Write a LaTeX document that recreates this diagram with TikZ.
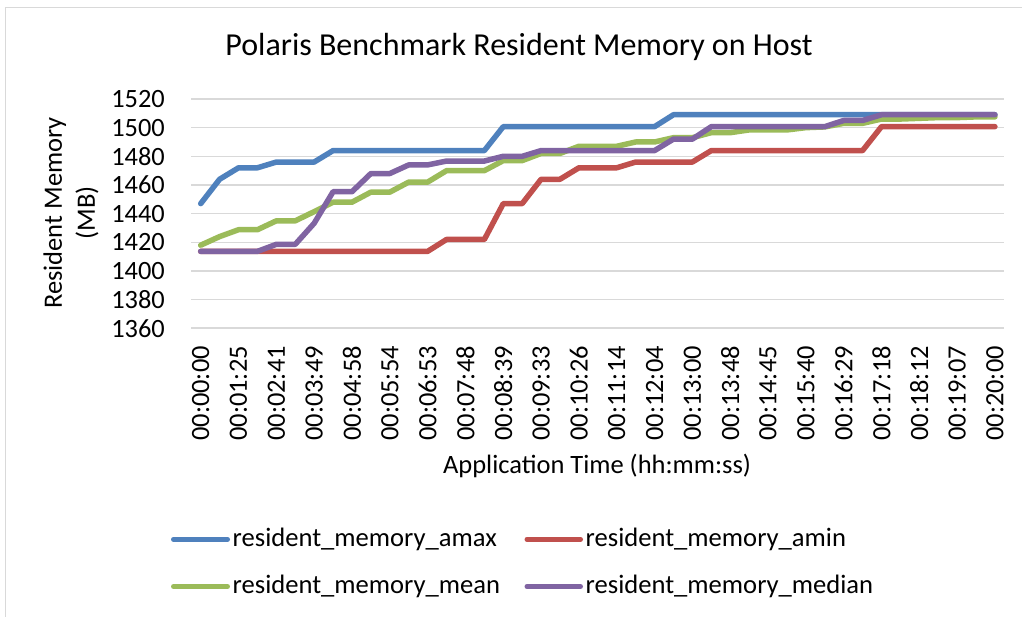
\documentclass[tikz,border=0pt]{standalone}
\usepackage{fontspec}
\setmainfont{Carlito}
\usetikzlibrary{positioning}
\definecolor{memMax}{HTML}{4F81BD}
\definecolor{memMin}{HTML}{C0504D}
\definecolor{memMean}{HTML}{9BBB59}
\definecolor{memMedian}{HTML}{8064A2}
\definecolor{gridGray}{HTML}{D9D9D9}

\begin{document}
\begin{tikzpicture}[
    x=1pt, y=-1pt,
    gridline/.style={draw=gridGray, line width=1.6pt},
    ticklabel/.style={inner sep=0pt, font=\fontsize{26.4}{31}\selectfont},
    axislabel/.style={inner sep=0pt, align=center, font=\fontsize{26.5}{33}\selectfont},
    series/.style={line width=5.5pt, line cap=round, line join=round},
    legendline/.style={line width=5pt, line cap=round},
    legendtext/.style={anchor=west, inner sep=0pt, font=\fontsize{26.6}{31}\selectfont}
  ]
  \useasboundingbox (0,0) rectangle (1022,616);
  \clip (0,0) rectangle (1022,616);
  \draw[gridGray, line width=1.5pt] (5.5,7.5) rectangle (1040,640);

  % Title
  \node[font=\fontsize{32}{38}\selectfont, inner sep=0pt] (title) at (519,47) {Polaris Benchmark Resident Memory on Host};

  % Value axis: gridlines and labels
  \foreach \v [count=\k from 0] in {1520,1500,...,1360} {
    \draw[gridline] (191,{99+\k*28.66}) -- (1004,{99+\k*28.66});
    \node[ticklabel, anchor=east] (ylab\k) at (165,{99+\k*28.66}) {\v};
  }

  % Category axis labels (every second sample)
  \foreach \t [count=\k from 0] in {00:00:00,00:01:25,00:02:41,00:03:49,00:04:58,00:05:54,00:06:53,00:07:48,00:08:39,00:09:33,00:10:26,00:11:14,00:12:04,00:13:00,00:13:48,00:14:45,00:15:40,00:16:29,00:17:18,00:18:12,00:19:07,00:20:00} {
    \node[ticklabel, rotate=90, anchor=east] (xlab\k) at ({200.7+\k*37.82},346) {\t};
  }

  % Axis titles
  \node[axislabel] (xtitle) at (597,466) {Application Time (hh:mm:ss)};
  \node[axislabel, rotate=90] (ytitle) at (71,213) {Resident Memory\\(MB)};

  % Series
  \begin{scope}[shift={(200.7,2277.9)}, x=18.91pt, y=1.4335pt]
    \draw[series, memMax] (0,1447) \foreach \v [count=\i] in {1464,1472,1472,1476,1476,1476,1484,1484,1484,1484,1484,1484,1484,1484,1484,1500.7,1500.7,1500.7,1500.7,1500.7,1500.7,1500.7,1500.7,1500.7,1509,1509,1509,1509,1509,1509,1509,1509,1509,1509,1509,1509,1509,1509,1509,1509,1509,1509} { -- (\i,\v) };
    \draw[series, memMin] (0,1413.7) \foreach \v [count=\i] in {1413.7,1413.7,1413.7,1413.7,1413.7,1413.7,1413.7,1413.7,1413.7,1413.7,1413.7,1413.7,1422,1422,1422,1447,1447,1464,1464,1472,1472,1472,1476,1476,1476,1476,1484,1484,1484,1484,1484,1484,1484,1484,1484,1500.7,1500.7,1500.7,1500.7,1500.7,1500.7,1500.7} { -- (\i,\v) };
    \draw[series, memMean] (0,1418) \foreach \v [count=\i] in {1424,1428.8,1428.8,1435,1435,1441.4,1448,1448,1455,1455,1462,1462,1470,1470,1470,1477,1477,1482,1482,1487,1487,1487,1490,1490,1493,1493,1496.5,1496.5,1498.4,1498.4,1498.4,1500,1500.5,1503,1503,1506,1506,1506.5,1507,1507,1507.5,1507.5} { -- (\i,\v) };
    \draw[series, memMedian] (0,1413.7) \foreach \v [count=\i] in {1413.7,1413.7,1413.7,1418.6,1418.6,1433.3,1455.3,1455.3,1468,1468,1474,1474,1476.7,1476.7,1476.7,1480,1480,1484,1484,1484,1484,1484,1484,1484,1492,1492,1500.7,1500.7,1500.7,1500.7,1500.7,1500.7,1500.7,1505,1505,1509,1509,1509,1509,1509,1509,1509} { -- (\i,\v) };
  \end{scope}

  % Legend
  \coordinate (lgMaxA) at (173.5,539.3);
  \coordinate (lgMaxB) at (227.5,539.3);
  \coordinate (lgMinA) at (527,539.3);
  \coordinate (lgMinB) at (580.5,539.3);
  \coordinate (lgMeanA) at (173.5,586.5);
  \coordinate (lgMeanB) at (227.5,586.5);
  \coordinate (lgMedianA) at (527,586.5);
  \coordinate (lgMedianB) at (580.5,586.5);
  \draw[legendline, memMax] (lgMaxA) -- (lgMaxB);
  \draw[legendline, memMin] (lgMinA) -- (lgMinB);
  \draw[legendline, memMean] (lgMeanA) -- (lgMeanB);
  \draw[legendline, memMedian] (lgMedianA) -- (lgMedianB);
  \node[legendtext, right=5pt of lgMaxB] (lgMax) {resident\_memory\_amax};
  \node[legendtext, right=5pt of lgMinB] (lgMin) {resident\_memory\_amin};
  \node[legendtext, right=5pt of lgMeanB] (lgMean) {resident\_memory\_mean};
  \node[legendtext, right=5pt of lgMedianB] (lgMedian) {resident\_memory\_median};
\end{tikzpicture}
\end{document}
